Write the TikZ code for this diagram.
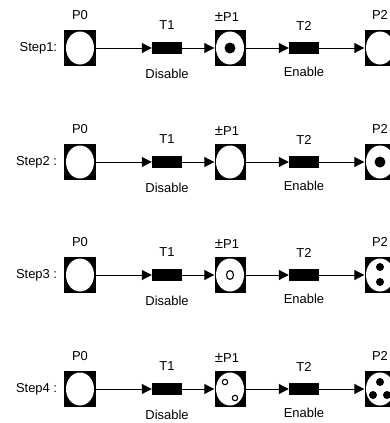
\documentclass[tikz,border=0pt]{standalone}
\usepackage{fontspec}
\setmainfont{Liberation Sans}
\usetikzlibrary{arrows.meta, positioning}

\begin{document}
\begin{tikzpicture}[x=1bp, y=-1bp,
    placebox/.style={rectangle, fill=black, minimum width=31bp, minimum height=36bp, inner sep=0pt,
        path picture={\fill[white] (path picture bounding box.center) ellipse (14bp and 16.5bp);}},
    trans/.style={rectangle, fill=black, minimum width=30bp, minimum height=12bp, inner sep=0pt},
    flow/.style={-{Triangle[length=10bp, width=10bp]}, line width=1bp},
    lbl/.style={font=\fontsize{13}{15}\selectfont, inner sep=0pt},
    hollow/.style={draw=black, line width=1.1bp}
]
    \clip (0,0) rectangle (390,423);

    \foreach \n/\y/\step in {1/48/Step1:, 2/162/Step2 :, 3/275/Step3 :, 4/389/Step4 :} {
        % Places and transitions
        \node[placebox] (P0-\n) at (80,\y)  {};
        \node[trans]    (T1-\n) at (167,\y) {};
        \node[placebox] (P1-\n) at (230,\y) {};
        \node[trans]    (T2-\n) at (304,\y) {};
        \node[placebox] (P2-\n) at (380,\y) {};

        % Labels
        \node[lbl, left=7bp of P0-\n]   (S-\n)      {\step};
        \node[lbl, above=10bp of P0-\n] (P0-\n-lbl) {P0};
        \node[lbl, above=12bp of T1-\n] (T1-\n-lbl) {T1};
        \node[lbl, above=8bp of P1-\n, xshift=-3bp] (P1-\n-lbl) {{\fontsize{15}{15}\selectfont ±}P1};
        \node[lbl, above=11bp of T2-\n] (T2-\n-lbl) {T2};
        \node[lbl, above=10bp of P2-\n] (P2-\n-lbl) {P2};
        \node[lbl, below=15bp of T1-\n] (D-\n)      {Disable};
        \node[lbl, below=13bp of T2-\n] (E-\n)      {Enable};

        % Arcs
        \draw[flow] (P0-\n) -- (T1-\n);
        \draw[flow] (T1-\n) -- (P1-\n);
        \draw[flow] (P1-\n) -- (T2-\n);
        \draw[flow] (T2-\n) -- (P2-\n);
    }

    % Tokens
    \fill (P1-1) circle (5.5bp);
    \fill (P2-2) circle (5.5bp);
    \draw[hollow] (P1-3) ellipse (3.5bp and 4.5bp);
    \fill[shift={(P2-3)}] (0,-8) circle (4bp) (0,7) circle (4bp);
    \draw[hollow, shift={(P1-4)}] (-5,-7) circle (2.7bp) (5,9) circle (2.7bp);
    \fill[shift={(P2-4)}] (0,-7) circle (4bp) (-7,6) circle (4bp) (7,6) circle (4bp);
\end{tikzpicture}
\end{document}
